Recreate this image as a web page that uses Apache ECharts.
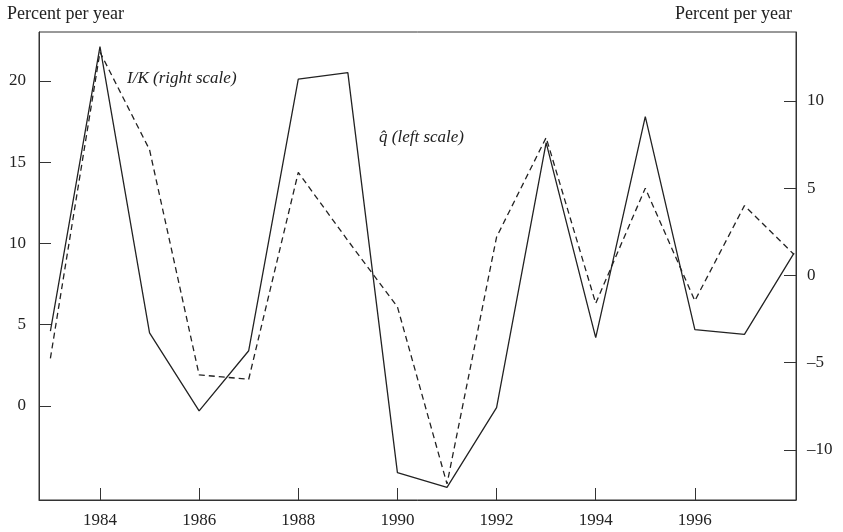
<!DOCTYPE html>
<html><head><meta charset="utf-8">
<script src="https://cdn.jsdelivr.net/npm/echarts@6/dist/echarts.min.js"></script>
<style>html,body{margin:0;padding:0;background:#fff}#c{width:843px;height:532px}</style>
</head><body><div id="c"></div>
<script>
const years = [1983,1984,1985,1986,1987,1988,1989,1990,1991,1992,1993,1994,1995,1996,1997,1998];
const qhat = [4.6,22.1,4.5,-0.3,3.4,20.1,20.5,-4.1,-5.0,-0.1,16.2,4.2,17.8,4.7,4.4,9.4];
const ik = [-4.75,12.8,7.2,-5.7,-5.95,5.9,2.0,-1.8,-11.95,2.2,7.9,-1.6,5.0,-1.45,4.0,1.2];
const xTicks = [1984,1986,1988,1990,1992,1994,1996];
const leftTicks = [0,5,10,15,20];
const rightTicks = [-10,-5,0,5,10];
const axisTitle = 'Percent per year';
const labelIK = 'I/K (right scale)';
const labelQ = 'q\u0302 (left scale)';

const FONT = '"Liberation Serif","DejaVu Serif",serif';
const INK = '#222';
const FRAME = '#333';
const fmt = v => String(v).replace('-', '\u2013');

const chart = echarts.init(document.getElementById('c'), null, {renderer:'canvas'});
chart.setOption({
  animation:false,
  backgroundColor:'#fff',
  grid:{left:39,right:47,top:32,bottom:32,show:true,borderColor:FRAME,borderWidth:1},
  xAxis:{type:'value',min:1982.77,max:1998.04,
    axisLine:{show:true,onZero:false,lineStyle:{color:FRAME,width:1}},
    axisTick:{show:true,inside:true,length:12,customValues:xTicks,lineStyle:{color:FRAME}},
    axisLabel:{customValues:xTicks,margin:12,color:INK,fontFamily:FONT,fontSize:17,formatter:v=>String(v)},
    splitLine:{show:false}},
  yAxis:[
    {type:'value',min:-5.78,max:23,position:'left',
     axisLine:{show:true,onZero:false,lineStyle:{color:FRAME,width:1}},
     axisTick:{show:true,inside:true,length:12,customValues:leftTicks,lineStyle:{color:FRAME}},
     axisLabel:{customValues:leftTicks,margin:13,color:INK,fontFamily:FONT,fontSize:17,formatter:fmt},
     splitLine:{show:false}},
    {type:'value',min:-12.87,max:13.95,position:'right',
     axisLine:{show:true,onZero:false,lineStyle:{color:FRAME,width:1}},
     axisTick:{show:true,inside:true,length:12,customValues:rightTicks,lineStyle:{color:FRAME}},
     axisLabel:{customValues:rightTicks,margin:11,color:INK,fontFamily:FONT,fontSize:17,formatter:fmt},
     splitLine:{show:false}}
  ],
  series:[
    {type:'line',name:'qhat',yAxisIndex:0,data:years.map((y,i)=>[y,qhat[i]]),
     showSymbol:false,symbol:'none',lineStyle:{color:INK,width:1.3,type:'solid'}},
    {type:'line',name:'IK',yAxisIndex:1,data:years.map((y,i)=>[y,ik[i]]),
     showSymbol:false,symbol:'none',lineStyle:{color:INK,width:1.3,type:[6,4]}}
  ],
  graphic:[
    {type:'text',left:7,top:5,style:{text:axisTitle,fontFamily:FONT,fontSize:18,fill:INK}},
    {type:'text',right:51,top:5,style:{text:axisTitle,fontFamily:FONT,fontSize:18,fill:INK}},
    {type:'text',left:127,top:70,style:{text:labelIK,fontFamily:FONT,fontSize:17,fontStyle:'italic',fill:INK}},
    {type:'text',left:379,top:129,style:{text:labelQ,fontFamily:FONT,fontSize:17,fontStyle:'italic',fill:INK}}
  ]
});
</script></body></html>
